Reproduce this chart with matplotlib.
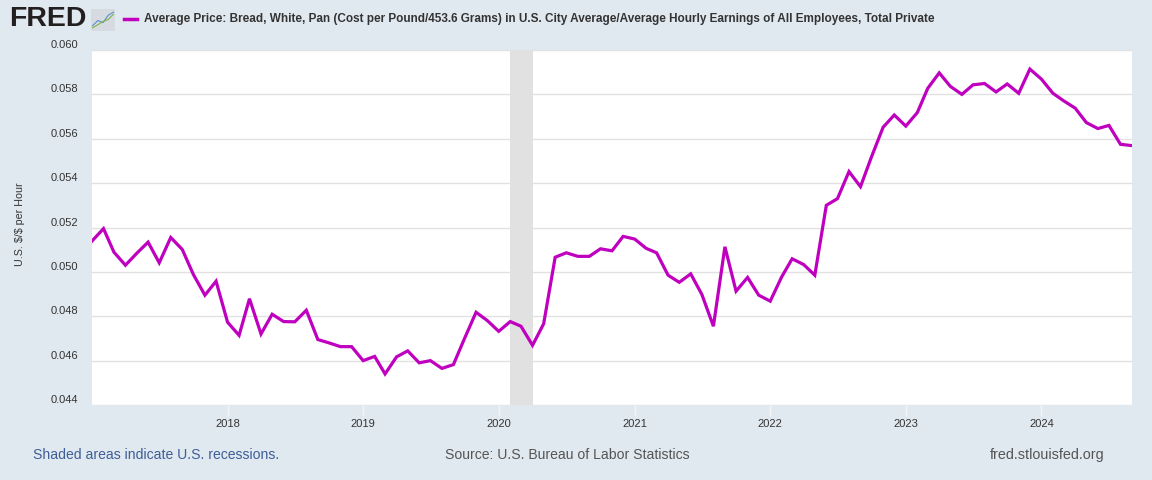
import matplotlib
matplotlib.use('Agg')
import matplotlib.pyplot as plt
from matplotlib import font_manager
from matplotlib.transforms import ScaledTranslation
import pandas as pd

# data: monthly, Jan 2017 .. Sep 2024
start = '2017-01-01'
ratio = [
    0.05139, 0.05195, 0.05089, 0.05030, 0.05083, 0.05134, 0.05041, 0.05155, 0.05101, 0.04988, 0.04895, 0.04958,
    0.04773, 0.04714, 0.04879, 0.04720, 0.04809, 0.04776, 0.04775, 0.04827, 0.04695, 0.04680, 0.04663, 0.04663,
    0.04600, 0.04619, 0.04540, 0.04617, 0.04644, 0.04590, 0.04600, 0.04565, 0.04582, 0.04700, 0.04818, 0.04781,
    0.04732, 0.04776, 0.04755, 0.04669, 0.04766, 0.05066, 0.05086, 0.05070, 0.05070, 0.05104, 0.05095, 0.05160,
    0.05148, 0.05106, 0.05086, 0.04985, 0.04953, 0.04991, 0.04898, 0.04755, 0.05113, 0.04913, 0.04975, 0.04895,
    0.04868, 0.04978, 0.05059, 0.05033, 0.04985, 0.05300, 0.05330, 0.05452, 0.05384, 0.05520, 0.05652, 0.05707,
    0.05657, 0.05718, 0.05827, 0.05897, 0.05836, 0.05800, 0.05843, 0.05849, 0.05811, 0.05847, 0.05805, 0.05914,
    0.05869, 0.05805, 0.05771, 0.05738, 0.05673, 0.05646, 0.05660, 0.05575, 0.05569,
]
recession = ('2020-02-01', '2020-04-01')
yticks = [0.044, 0.046, 0.048, 0.050, 0.052, 0.054, 0.056, 0.058, 0.060]
xyears = [2018, 2019, 2020, 2021, 2022, 2023, 2024]

title = ('Average Price: Bread, White, Pan (Cost per Pound/453.6 Grams) in U.S. City Average/'
         'Average Hourly Earnings of All Employees, Total Private')
ylabel = r'U.S. \$/\$ per Hour'

dates = pd.date_range(start, periods=len(ratio), freq='MS')

# colours
bg = '#e1e9f0'
line_c = '#bf00bf'
grid_c = '#e1e1e1'
text_c = '#333333'

names = {f.name for f in font_manager.fontManager.ttflist}
base_font = 'Liberation Sans' if 'Liberation Sans' in names else 'DejaVu Sans'
narrow_font = 'Liberation Sans Narrow' if 'Liberation Sans Narrow' in names else base_font
plt.rcParams['font.family'] = [base_font, 'DejaVu Sans']

fig = plt.figure(figsize=(11.52, 4.8), dpi=100, facecolor=bg)
W, H = 1152, 480
ax = fig.add_axes([92 / W, 1 - 405 / H, (1132 - 92) / W, (405 - 50) / H])
ax.set_facecolor('white')

ax.axvspan(pd.Timestamp(recession[0]), pd.Timestamp(recession[1]), color='#e1e1e1', lw=0, zorder=1)
ax.plot(dates, ratio, color=line_c, lw=2.3, solid_joinstyle='miter', zorder=3)

ax.set_xlim(dates[0], dates[-1])
ax.set_ylim(yticks[0], yticks[-1])
ax.set_yticks(yticks)
ax.set_yticklabels(['%.3f' % v for v in yticks])
ax.yaxis.grid(True, color=grid_c, lw=1)
ax.set_axisbelow(True)
for s in ax.spines.values():
    s.set_visible(False)

ax.tick_params(axis='y', length=0, pad=10, labelsize=8, labelcolor=text_c)
offset = ScaledTranslation(0, 0.06, fig.dpi_scale_trans)
for lab in ax.get_yticklabels():
    lab.set_transform(lab.get_transform() + offset)

ax.set_xticks([pd.Timestamp('%d-01-01' % y) for y in xyears])
ax.set_xticklabels([str(y) for y in xyears])
ax.tick_params(axis='x', length=8, width=1, color='#f2f5f8', pad=2, labelsize=8, labelcolor=text_c)

fig.text(20 / W, 1 - 224 / H, ylabel, rotation=90, ha='center', va='center',
         fontsize=7.7, color=text_c)

# header
fig.text(9 / W, 1 - 19 / H, 'FRED', fontsize=20.5, fontweight='heavy', color='#231f20',
         ha='left', va='center')
icon = fig.add_axes([91 / W, 1 - 31 / H, 24 / W, 22 / H])
icon.set_facecolor('#d5dbe0')
icon.plot([0, 1, 2, 3, 4], [1, 2, 1.6, 3, 3.6], color='#5b8fc9', lw=0.8)
icon.plot([0, 1, 2, 3, 4], [0.6, 1.2, 1.8, 2.2, 3.2], color='#7fb24a', lw=0.8)
icon.set_xlim(-0.3, 4.3)
icon.set_ylim(0, 4.2)
icon.set_xticks([])
icon.set_yticks([])
for s in icon.spines.values():
    s.set_visible(False)

fig.add_artist(plt.Line2D([124 / W, 137 / W], [1 - 19 / H, 1 - 19 / H], color=line_c, lw=2.5))
fig.text(144 / W, 1 - 19 / H, title, fontsize=8.48, fontweight='bold', color=text_c,
         family=[narrow_font, 'DejaVu Sans'], ha='left', va='center')

# footer
fig.text(33 / W, 1 - 455 / H, 'Shaded areas indicate U.S. recessions.', fontsize=10.1,
         color='#3d5e96', ha='left', va='center')
fig.text(445 / W, 1 - 455 / H, 'Source: U.S. Bureau of Labor Statistics', fontsize=10.1,
         color='#555555', ha='left', va='center')
fig.text(1104 / W, 1 - 455 / H, 'fred.stlouisfed.org', fontsize=10.4,
         color='#555555', ha='right', va='center')

fig.savefig('out.png', dpi=100, facecolor=bg)
